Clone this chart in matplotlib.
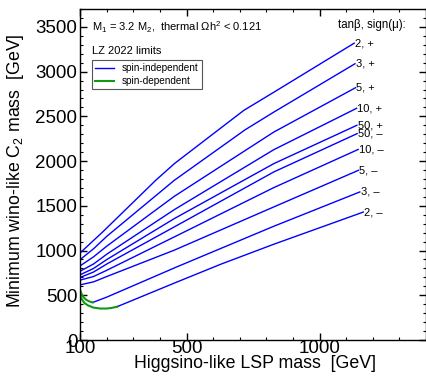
import matplotlib; matplotlib.use('agg')
import matplotlib.pyplot as plt
from matplotlib.ticker import MultipleLocator

plt.rcParams['font.family'] = ['Liberation Sans', 'DejaVu Sans']
plt.rcParams['mathtext.fontset'] = 'custom'
plt.rcParams['mathtext.rm'] = 'Liberation Sans'
plt.rcParams['mathtext.it'] = 'Liberation Sans:italic'

# spin-independent limit curves (blue), one per tan(beta), sign(mu)
si_labels = ['2, +', '3, +', '5, +', '10, +', '50, +', '50, \u2013', '10, \u2013', '5, \u2013', '3, \u2013', '2, \u2013']
si_x = [
    [100, 185, 384, 454, 600, 715, 828, 1130],
    [100, 150, 200, 454, 720, 828, 1133],
    [100, 150, 200, 454, 828, 1135],
    [100, 150, 200, 454, 828, 1139],
    [100, 150, 200, 454, 828, 1140],
    [100, 150, 200, 454, 828, 1141],
    [100, 150, 200, 454, 828, 1145],
    [100, 150, 200, 454, 828, 1146],
    [147, 200, 465, 828, 1151],
    [238, 465, 629, 828, 1164],
]
si_y = [
    [975, 1210, 1786, 1972, 2305, 2567, 2770, 3318],
    [900, 1020, 1160, 1786, 2350, 2548, 3088],
    [830, 930, 1050, 1607, 2325, 2820],
    [770, 850, 960, 1458, 2128, 2590],
    [730, 800, 900, 1358, 1972, 2400],
    [700, 760, 850, 1265, 1879, 2307],
    [670, 710, 780, 1153, 1704, 2130],
    [617, 650, 710, 1005, 1488, 1897],
    [420, 480, 820, 1272, 1655],
    [372, 650, 848, 1071, 1430],
]

# spin-dependent pieces (green) for tan(beta)=3,- and 2,-
sd_x = [
    [100, 105, 112, 122, 135, 147],
    [100, 105, 115, 130, 150, 175, 200, 220, 238],
]
sd_y = [
    [555, 515, 480, 450, 430, 420],
    [500, 460, 415, 385, 362, 352, 352, 360, 372],
]

blue = '#0000ff'
green = '#129912'

fig = plt.figure(figsize=(4.27, 3.76), dpi=100)
ax = fig.add_axes([0.188, 0.0957, 0.8097, 0.8804])

for i in range(len(si_x)):
    ax.plot(si_x[i], si_y[i], color=blue, lw=1.0,
            label='spin-independent' if i == 0 else None)
    ax.text(si_x[i][-1] + 3, si_y[i][-1], si_labels[i], fontsize=8,
            ha='left', va='center')
for i in range(len(sd_x)):
    ax.plot(sd_x[i], sd_y[i], color=green, lw=1.5,
            label='spin-dependent' if i == 0 else None)

ax.text(0.034, 0.946, 'M$_1$ = 3.2 M$_2$,  thermal \u03a9h$^2$ < 0.121',
        transform=ax.transAxes, fontsize=8, ha='left', va='center')
ax.text(0.034, 0.872, 'LZ 2022 limits', transform=ax.transAxes,
        fontsize=8, ha='left', va='center')
ax.text(0.942, 0.952, 'tan\u03b2, sign(\u03bc):', transform=ax.transAxes,
        fontsize=8.3, ha='right', va='center')

leg = ax.legend(loc='upper left', bbox_to_anchor=(0.034, 0.845),
                borderaxespad=0, fontsize=7.2, handlelength=1.9,
                handletextpad=0.8, borderpad=0.3, labelspacing=0.3,
                fancybox=False, framealpha=1)
leg.get_frame().set_edgecolor('#555555')
leg.get_frame().set_linewidth(0.8)

ax.set_xlim(100, 1400)
ax.set_ylim(0, 3700)
ax.set_xticks([100, 500, 1000])
ax.xaxis.set_minor_locator(MultipleLocator(100))
ax.yaxis.set_major_locator(MultipleLocator(500))
ax.yaxis.set_minor_locator(MultipleLocator(100))
ax.tick_params(which='both', direction='in', top=True, right=True)
ax.tick_params(which='major', length=5, width=1.0, labelsize=13.5)
ax.tick_params(which='minor', length=2.3, width=0.8)
ax.tick_params(axis='x', pad=0)
ax.tick_params(axis='y', pad=2)
for s in ax.spines.values():
    s.set_linewidth(1.0)

ax.set_xlabel('Higgsino-like LSP mass  [GeV]', fontsize=12.8)
ax.set_ylabel('Minimum wino-like C$_2$ mass  [GeV]', fontsize=12.8)
ax.xaxis.set_label_coords(0.504, -0.045)
ax.yaxis.set_label_coords(-0.157, 0.51)

plt.savefig('out.png', dpi=100)
